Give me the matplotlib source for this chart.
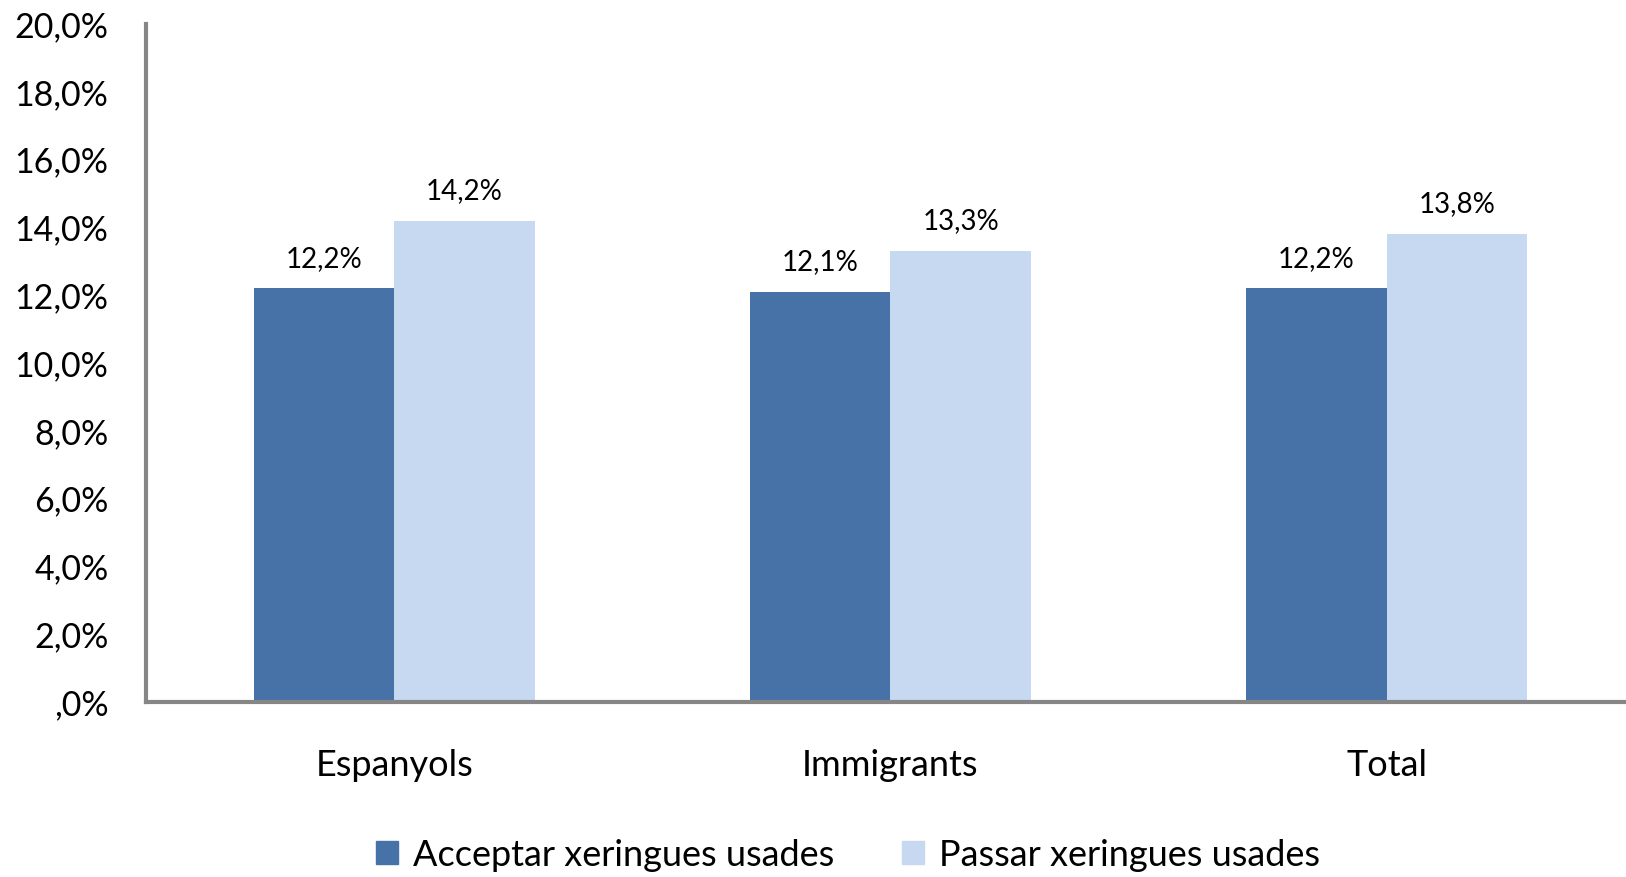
import matplotlib
matplotlib.use("Agg")
import matplotlib.pyplot as plt
import numpy as np
from matplotlib.patches import Patch

categories = ["Espanyols", "Immigrants", "Total"]
series_names = ["Acceptar xeringues usades", "Passar xeringues usades"]
acceptar = [12.2, 12.1, 12.2]
passar = [14.2, 13.3, 13.8]
yticks = [0, 2, 4, 6, 8, 10, 12, 14, 16, 18, 20]

colors = ["#4672A8", "#C6D9F0"]

plt.rcParams['font.family'] = ['Lato', 'DejaVu Sans']

W, H = 1626, 877
fig = plt.figure(figsize=(W / 100, H / 100), dpi=100)
ax = fig.add_axes([146 / W, 1 - 702 / H, (W - 146) / W + 0.01, (702 - 24) / H])

x = np.arange(len(categories))
bw = 0.283
b1 = ax.bar(x - bw / 2, acceptar, bw, color=colors[0], label=series_names[0])
b2 = ax.bar(x + bw / 2, passar, bw, color=colors[1], label=series_names[1])

def fmt(v):
    return f"{v:.1f}%".replace(".", ",")

for bars, vals in ((b1, acceptar), (b2, passar)):
    for r, v in zip(bars, vals):
        ax.annotate(fmt(v), (r.get_x() + r.get_width() / 2, v), xytext=(0, 12),
                    textcoords="offset points", ha="center", va="bottom", fontsize=20)

ax.set_xlim(-0.5, 2.515)
ax.set_ylim(0, 20)
ax.set_yticks(yticks)
ax.set_yticklabels([("," + "0%") if t == 0 else fmt(t) for t in yticks], fontsize=24.5)
ax.set_xticks(x)
ax.set_xticklabels(categories, fontsize=26)
ax.tick_params(axis='both', length=0)
ax.tick_params(axis='y', pad=27)
ax.tick_params(axis='x', pad=34)
for s in ["top", "right"]:
    ax.spines[s].set_visible(False)
for s in ["left", "bottom"]:
    ax.spines[s].set_color("#868686")
    ax.spines[s].set_linewidth(3)

handles = [Patch(color=colors[0], label=series_names[0]),
           Patch(color=colors[1], label=series_names[1])]
fig.legend(handles=handles, loc="center", bbox_to_anchor=(848 / W, 1 - 855 / H),
           ncol=2, frameon=False, fontsize=26, handlelength=0.6, handleheight=0.6,
           handletextpad=0.4, columnspacing=1.9)

fig.savefig("out.png", dpi=100)
